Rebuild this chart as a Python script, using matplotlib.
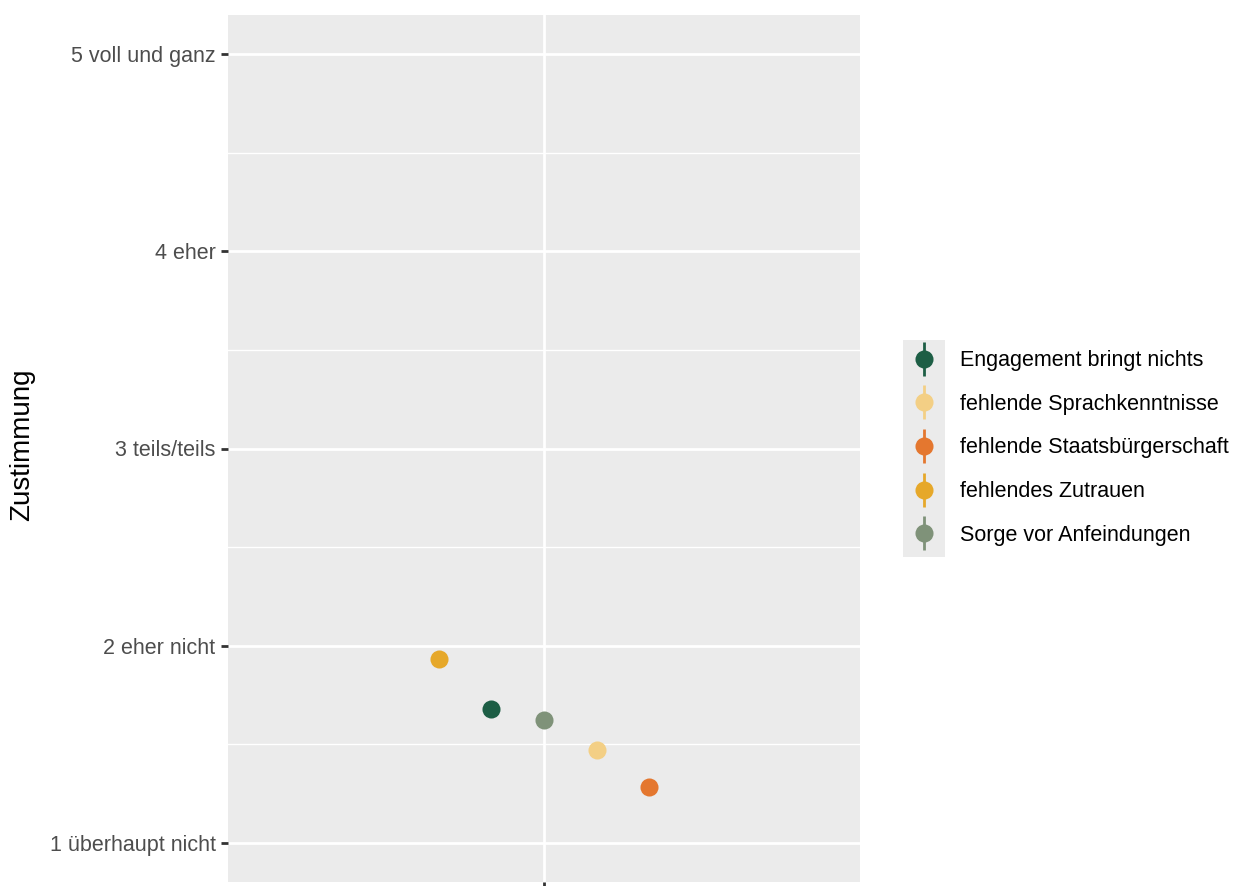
import matplotlib
matplotlib.use("Agg")
import matplotlib.pyplot as plt
from matplotlib.lines import Line2D
from matplotlib.patches import Rectangle

# data
items = ["Engagement bringt nichts", "fehlende Sprachkenntnisse",
         "fehlende Staatsbürgerschaft", "fehlendes Zutrauen",
         "Sorge vor Anfeindungen"]
means = [1.68, 1.47, 1.28, 1.93, 1.62]
dodge_order = ["fehlendes Zutrauen", "Engagement bringt nichts",
               "Sorge vor Anfeindungen", "fehlende Sprachkenntnisse",
               "fehlende Staatsbürgerschaft"]
colors = ["#1d5e45", "#f3cf85", "#e4772f", "#e6a82a", "#7f9279"]
y_ticks = [1, 2, 3, 4, 5]
y_labels = ["1 überhaupt nicht", "2 eher nicht", "3 teils/teils",
            "4 eher", "5 voll und ganz"]

plt.rcParams['font.family'] = ['Liberation Sans', 'DejaVu Sans']

W, H = 1239, 886
fig = plt.figure(figsize=(W/100, H/100), dpi=100)
ax = fig.add_axes([228/W, 4/H, (860-228)/W, (882-15)/H])
ax.set_facecolor("#ebebeb")

step = 0.1
for name, m, c in zip(items, means, colors):
    xpos = 1 + (dodge_order.index(name) - 2) * step
    ax.plot([xpos], [m], 'o', color=c, markersize=13, markeredgewidth=0)

ax.set_xlim(0.4, 1.6)
ax.set_ylim(0.8, 5.2)
ax.set_xticks([1])
ax.set_xticklabels([""])
ax.set_yticks(y_ticks)
ax.set_yticklabels(y_labels, fontsize=15.5, color="#4d4d4d")
ax.set_yticks([1.5, 2.5, 3.5, 4.5], minor=True)
ax.tick_params(axis='both', which='major', length=5, width=2, color="#333333", pad=4)
ax.tick_params(axis='y', which='minor', length=0)
ax.grid(True, which='major', color='white', linewidth=2)
ax.grid(True, which='minor', axis='y', color='white', linewidth=1)
ax.set_axisbelow(True)
for s in ax.spines.values():
    s.set_visible(False)

fig.text(22/W, 1 - 445/H, "Zustimmung", rotation=90, fontsize=20,
         va='center', ha='center', color="black")

# legend keys with grey background
fig.patches.append(Rectangle((903/W, 1 - 557/H), 42/W, 217/H,
                             transform=fig.transFigure, facecolor="#ebebeb",
                             edgecolor='none', zorder=0))
handles = []
for c in colors:
    vline = Line2D([], [], linestyle='none', marker='|', markersize=25,
                   markeredgewidth=2, color=c)
    dot = Line2D([], [], linestyle='none', marker='o', markersize=13,
                 markeredgewidth=0, color=c)
    handles.append((vline, dot))
leg = fig.legend(handles, items, loc='center left',
                 bbox_to_anchor=(913/W, 1 - 448/H), frameon=False,
                 fontsize=15.5, handlelength=1.0, handletextpad=1.2,
                 labelspacing=1.05, borderaxespad=0, borderpad=0)

fig.savefig("out.png", dpi=100)
